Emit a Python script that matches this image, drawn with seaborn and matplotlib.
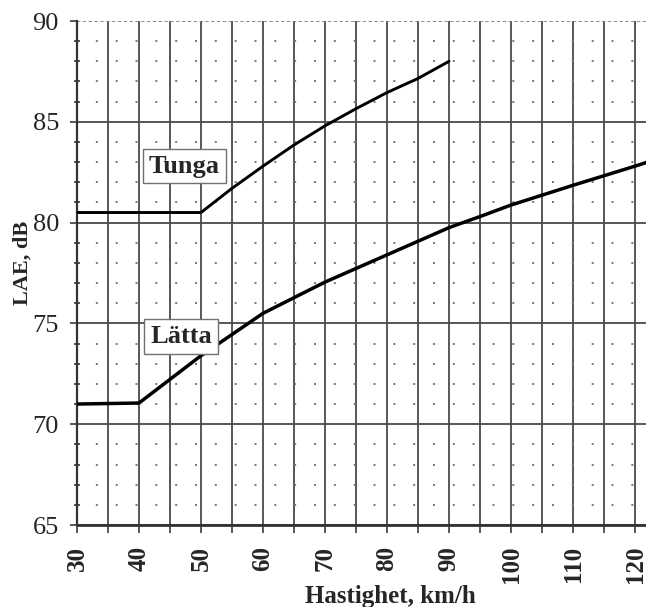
import matplotlib
matplotlib.use("Agg")
import matplotlib.pyplot as plt
import seaborn as sns
import pandas as pd
import numpy as np

# ---- data ----
speed_tunga = [30, 40, 50, 55, 60, 65, 70, 75, 80, 85, 90]
lae_tunga = [80.5, 80.5, 80.5, 81.7, 82.8, 83.85, 84.8, 85.65, 86.45, 87.15, 88.0]

speed_latta = [30, 40, 50, 60, 70, 80, 90, 95, 100, 110, 120, 122]
lae_latta = [71.0, 71.05, 73.4, 75.5, 77.05, 78.4, 79.75, 80.3, 80.87, 81.85, 82.8, 83.0]

label_names = ["Tunga", "Lätta"]
label_pos_x = [47.3, 46.8]
label_pos_y = [82.8, 74.35]

x_ticks = [30, 40, 50, 60, 70, 80, 90, 100, 110, 120]
y_ticks = [65, 70, 75, 80, 85, 90]

sns.set_style("white")
plt.rcParams['font.family'] = ['Liberation Serif', 'DejaVu Serif']

fig = plt.figure(figsize=(6.46, 6.07), dpi=100)
W, H = 646, 607
left_px, right_px, top_px, bot_px = 77, 697, 21, 525
ax = fig.add_axes([left_px / W, 1 - bot_px / H, (right_px - left_px) / W, (bot_px - top_px) / H])

df_t = pd.DataFrame({"speed": speed_tunga, "lae": lae_tunga})
df_l = pd.DataFrame({"speed": speed_latta, "lae": lae_latta})

grid_col = "#4a4a4a"
# vertical grid every 5
for xv in np.arange(30, 131, 5):
    ax.axvline(xv, color=grid_col, lw=1.3, zorder=1)
# horizontal major every 5
for yv in [65, 70, 75, 80, 85]:
    ax.axhline(yv, color=grid_col, lw=1.3, zorder=1)
ax.axhline(90, color="#777777", lw=1.2, ls=(0, (2, 1.5)), zorder=1)
# dotted minor horizontal every 1 dB
for yv in np.arange(66, 90, 1):
    if yv % 5 != 0:
        ax.axhline(yv, color="#777777", lw=1.4, ls=(0.5, (1, 9.2)), zorder=1)

sns.lineplot(data=df_t, x="speed", y="lae", ax=ax, color="black", lw=2.1, zorder=3)
sns.lineplot(data=df_l, x="speed", y="lae", ax=ax, color="black", lw=2.5, zorder=3)

for name, lx, ly in zip(label_names, label_pos_x, label_pos_y):
    ax.text(lx, ly, name, ha="center", va="center", fontsize=19, fontweight="bold",
            bbox=dict(boxstyle="square,pad=0.22", fc="white", ec="#707070", lw=1.0), zorder=5)

ax.set_xlim(30, 130)
ax.set_ylim(65, 90)
ax.set_xticks(x_ticks)
ax.set_xticks(np.arange(35, 130, 10), minor=True)
ax.set_yticks(y_ticks)
ax.set_yticks(np.arange(65, 91, 1), minor=True)
ax.set_xticklabels([str(v) for v in x_ticks], rotation=90, fontweight="bold", fontsize=18)
ax.set_yticklabels([str(v) for v in y_ticks], fontsize=19)

ax.tick_params(axis="x", which="both", direction="out", length=6, width=1.3, color=grid_col, pad=9, bottom=True)
ax.tick_params(axis="y", which="major", direction="out", length=5, width=1.3, color=grid_col, pad=8, left=True)
ax.tick_params(axis="y", which="minor", direction="inout", length=4, width=1.3, color=grid_col, left=True)

for s in ["top", "right"]:
    ax.spines[s].set_visible(False)
ax.spines["left"].set_color("#333333")
ax.spines["left"].set_linewidth(1.6)
ax.spines["bottom"].set_color("#333333")
ax.spines["bottom"].set_linewidth(2.0)

ax.set_xlabel("Hastighet, km/h", fontsize=18, fontweight="bold")
ax.set_ylabel("LAE, dB", fontsize=16, fontweight="bold")
ax.xaxis.set_label_coords(0.505, -0.119)
ax.yaxis.set_label_coords(-0.071, 0.52)

fig.savefig("out.png", dpi=100)
